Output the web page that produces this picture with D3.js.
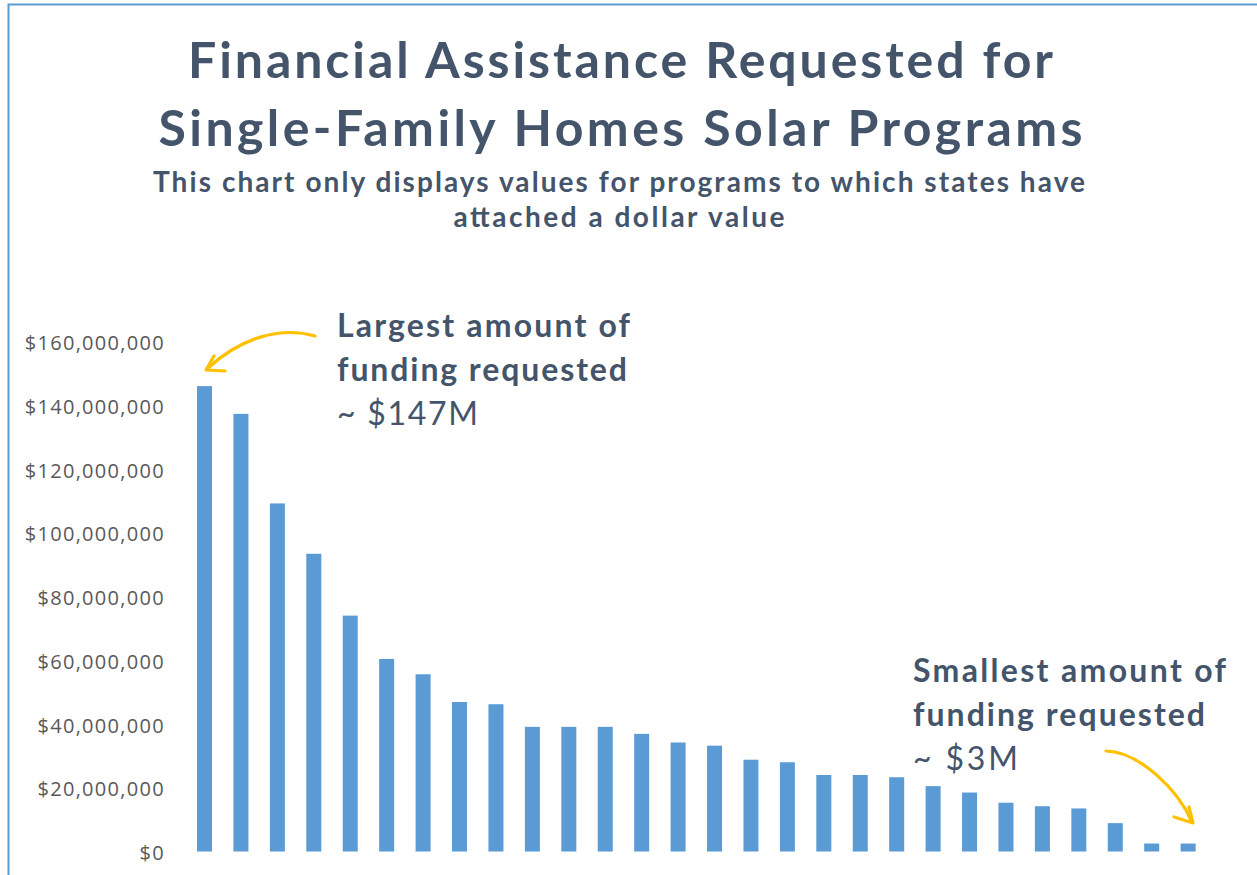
<!DOCTYPE html>
<html>
<head>
<meta charset="utf-8">
<script src="https://cdn.jsdelivr.net/npm/d3@7"></script>
<style>
  html, body { margin: 0; padding: 0; background: #fff; }
  svg { display: block; }
</style>
</head>
<body>
<svg id="chart" width="1257" height="875"></svg>
<script>
// ---- data ----
const categories = ["P1","P2","P3","P4","P5","P6","P7","P8","P9","P10","P11","P12","P13","P14",
  "P15","P16","P17","P18","P19","P20","P21","P22","P23","P24","P25","P26","P27","P28"];
const valuesMillions = [146, 137.3, 109.2, 93.4, 74.0, 60.4, 55.6, 46.9, 46.2, 39.1, 39.1, 39.1, 36.9, 34.2,
  33.2, 28.8, 28.0, 24.0, 24.0, 23.3, 20.5, 18.5, 15.3, 14.2, 13.5, 8.9, 2.5, 2.5];
const yTicks = [0, 20e6, 40e6, 60e6, 80e6, 100e6, 120e6, 140e6, 160e6];
const titleLines = ["Financial Assistance Requested for", "Single-Family Homes Solar Programs"];
const subtitleLines = ["This chart only displays values for programs to which states have", "attached a dollar value"];
const largestNote = ["Largest amount of", "funding requested", "~ $147M"];
const smallestNote = ["Smallest amount of", "funding requested", "~ $3M"];

const data = categories.map((c, i) => ({ cat: c, value: valuesMillions[i] * 1e6 }));

// ---- setup ----
const svg = d3.select("#chart");
const W = 1257, H = 875;
const titleColor = "#44546a";
const barColor = "#5b9bd5";
const accent = "#ffc000";

// frame
svg.append("path")
  .attr("d", `M8.5,${H} L8.5,4.5 L${W},4.5`)
  .attr("fill", "none").attr("stroke", barColor).attr("stroke-width", 2);

// scales
const step = 36.43;
const x = d3.scaleBand().domain(categories)
  .range([186.3, 186.3 + step * categories.length])
  .paddingInner(0.588).paddingOuter(0.294);
const y = d3.scaleLinear().domain([0, 160e6]).range([851.5, 341.5]);

// y axis (labels only)
const yAxis = d3.axisLeft(y).tickValues(yTicks)
  .tickFormat(v => "$" + d3.format(",")(v)).tickSize(0).tickPadding(0);
const gy = svg.append("g").attr("transform", "translate(165,0)").call(yAxis);
gy.select(".domain").remove();
gy.selectAll("text")
  .attr("font-family", "'Open Sans', sans-serif")
  .attr("font-size", 20)
  .attr("letter-spacing", 1.3)
  .attr("fill", "#595959")
  .attr("dy", "0.4em");

// bars
svg.append("g").selectAll("rect").data(data).join("rect")
  .attr("x", d => x(d.cat))
  .attr("width", x.bandwidth())
  .attr("y", d => y(d.value))
  .attr("height", d => y(0) - y(d.value))
  .attr("fill", barColor);

// titles
const titleG = svg.append("g").attr("font-family", "Lato, sans-serif").attr("fill", titleColor)
  .attr("text-anchor", "middle").attr("font-weight", 700);
const titleW = [865, 924], subW = [932, 331];
titleLines.forEach((t, i) => {
  titleG.append("text").attr("x", 620.5).attr("y", [78, 146][i]).attr("font-size", 50)
    .attr("textLength", titleW[i]).attr("lengthAdjust", "spacing").text(t);
});
subtitleLines.forEach((t, i) => {
  titleG.append("text").attr("x", 619).attr("y", [192, 227][i]).attr("font-size", 28)
    .attr("textLength", subW[i]).attr("lengthAdjust", "spacing").text(t);
});

// annotations
function note(lines, widths, x0, y0) {
  const g = svg.append("g").attr("font-family", "Lato, sans-serif").attr("fill", titleColor).attr("font-size", 32);
  lines.forEach((t, i) => {
    g.append("text").attr("x", x0).attr("y", y0 + i * 44)
      .attr("font-weight", i < 2 ? 700 : 400)
      .attr("textLength", widths[i]).attr("lengthAdjust", "spacing").text(t);
  });
}
note(largestNote, [293, 290, 141], 337, 337);
note(smallestNote, [313, 292, 105], 913, 682);

// arrows
const arrow = svg.append("g").attr("fill", "none").attr("stroke", accent)
  .attr("stroke-width", 3.2).attr("stroke-linecap", "round").attr("stroke-linejoin", "round");
// arrow to largest bar
arrow.append("path").attr("d", "M315,336 C280,326 240,338 207,369");
arrow.append("path").attr("d", "M214,356 L206,370 L225,371");
// arrow to smallest bar
arrow.append("path").attr("d", "M1106,751 C1140,752 1178,790 1192,822");
arrow.append("path").attr("d", "M1189,807 L1193,823 L1174,817");
</script>
</body>
</html>
